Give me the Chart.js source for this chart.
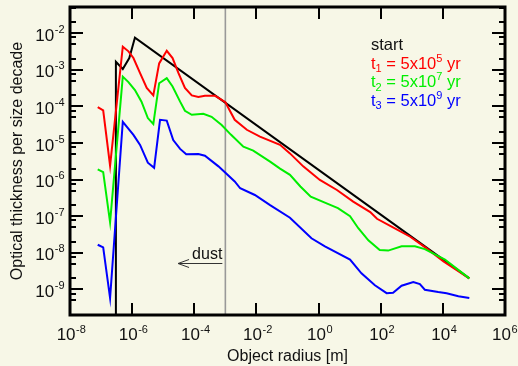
<!DOCTYPE html>
<html>
<head>
<meta charset="utf-8">
<script src="https://cdn.jsdelivr.net/npm/chart.js@4/dist/chart.umd.min.js"></script>
<style>
  html, body { margin: 0; padding: 0; background: #f7f7e7; }
  canvas { display: block; }
</style>
</head>
<body>
<canvas id="grafico" width="518" height="366"></canvas>
<script>
// object radius [m] and optical thickness per size decade for each curve
const startRadius = [3e-7, 3e-7, 5e-7, 8.1e-7, 1.23e-6, 7.1e4]
const startTau = [1e-11, 1.66e-3, 1.05e-3, 2.1e-3, 7.6e-3, 2.0e-9]

const t1Radius = [7.8e-8, 1.17e-7, 1.95e-7, 5e-7, 7.6e-7, 1.1e-6, 1.8e-6, 2.95e-6, 4.8e-6, 7.4e-6,
  1.3e-5, 2.0e-5, 3.1e-5, 5.0e-5, 8.3e-5, 1.35e-4, 2.2e-4, 4.7e-4, 1e-3, 2.0e-3,
  4.9e-3, 1.3e-2, 5.75e-2, 0.12, 0.32, 1.1, 3.9, 13, 46, 76, 257, 890, 3090, 1.05e4, 7.1e4]
const t1Tau = [9.5e-5, 7.8e-5, 2.4e-6, 4.3e-3, 3.2e-3, 2.1e-3, 8.1e-4, 3.2e-4, 2.0e-4, 1.5e-3,
  3.3e-3, 2.1e-3, 8.1e-4, 3.2e-4, 2.0e-4, 1.8e-4, 1.95e-4, 1.95e-4, 1.3e-4, 4.3e-5,
  2.3e-5, 1.5e-5, 8.9e-6, 5.2e-6, 2.3e-6, 9.8e-7, 5.2e-7, 2.5e-7, 1.3e-7, 8.5e-8, 4.9e-8, 2.75e-8, 1.3e-8, 5.8e-9, 2.0e-9]

const t2Radius = [7.8e-8, 1.17e-7, 1.95e-7, 5e-7, 7.6e-7, 1.23e-6, 2.0e-6, 3.2e-6, 4.8e-6, 7.4e-6,
  1.3e-5, 2.0e-5, 3.5e-5, 5.0e-5, 8.3e-5, 1.95e-4, 3.6e-4, 7.6e-4, 1.5e-3, 3.8e-3,
  7.9e-3, 2.75e-2, 5.75e-2, 0.12, 0.26, 0.56, 1.9, 4.2, 10.3, 19, 40, 93, 174, 470, 1260, 2630, 1.17e4, 7.1e4]
const t2Tau = [1.9e-6, 1.6e-6, 6.8e-8, 6.5e-4, 4.6e-4, 2.8e-4, 1.35e-4, 4.8e-5, 3.3e-5, 4.3e-4,
  5.9e-4, 3.5e-4, 1.35e-4, 7.6e-5, 5.9e-5, 6.3e-5, 5.2e-5, 3.1e-5, 1.7e-5, 7.9e-6,
  6.2e-6, 3.1e-6, 2.0e-6, 1.35e-6, 6.5e-7, 3.4e-7, 2.2e-7, 1.66e-7, 1.0e-7, 4.7e-8, 2.2e-8, 1.2e-8, 1.15e-8, 1.5e-8, 1.5e-8, 1.26e-8, 6.5e-9, 2.0e-9]

const t3Radius = [7.8e-8, 1.17e-7, 1.95e-7, 5e-7, 1.1e-6, 1.8e-6, 3.2e-6, 5.1e-6, 7.9e-6, 1.3e-5,
  2.1e-5, 3.5e-5, 5.5e-5, 1.35e-4, 2.2e-4, 6.0e-4, 2.0e-3, 3.0e-3, 8.9e-3, 2.75e-2,
  0.12, 0.59, 1.6, 10.3, 24, 65, 155, 250, 470, 1120, 1820, 2630, 7080, 1.32e4, 3.16e4, 7.1e4]
const t3Tau = [1.66e-8, 1.4e-8, 5.8e-10, 3.8e-5, 1.66e-5, 8.9e-6, 2.9e-6, 2.1e-6, 4.3e-5, 4.1e-5,
  1.2e-5, 6.9e-6, 4.9e-6, 5.0e-6, 4.5e-6, 2.3e-6, 8.9e-7, 5.8e-7, 3.8e-7, 2.0e-7,
  9.1e-8, 2.5e-8, 1.5e-8, 6.5e-9, 2.75e-9, 1.3e-9, 7.9e-10, 8.1e-10, 1.26e-9, 1.6e-9, 1.4e-9, 9.8e-10, 8.5e-10, 7.9e-10, 6.5e-10, 5.8e-10]

// dust / larger bodies boundary
const dustEdge = 1e-3
const dustArrowEnd = 3e-5
const dustArrowTau = 5.2e-9

const xMin = 1e-8, xMax = 1e6
const yMin = 2e-10, yMax = 5.2e-2
const xLabelTicks = [-8, -6, -4, -2, 0, 2, 4, 6]
const yLabelTicks = [-9, -8, -7, -6, -5, -4, -3, -2]
const yMinorSteps = [2, 5, 7.7]

const fontFam = '"Liberation Sans", Arial, Helvetica, sans-serif'

const toPoints = (xs, ys) => xs.map((v, i) => ({ x: v, y: ys[i] }))

function powerLabel(ctx, exp, x, base, align, raise) {
  ctx.font = "17px " + fontFam
  const w1 = ctx.measureText("10").width
  ctx.font = "11px " + fontFam
  const w2 = ctx.measureText(exp).width
  let left = align === "center" ? x - (w1 + w2) / 2 : x - w1 - w2
  // keep the last label inside the canvas
  left = Math.min(left, 517 - w1 - w2)
  ctx.font = "17px " + fontFam
  ctx.fillText("10", left, base)
  ctx.font = "11px " + fontFam
  ctx.fillText(exp, left + w1 + 0.5, base - raise)
}

// pieces of rich text: [text, size, vertical shift]
function richText(ctx, parts, x, base, color) {
  ctx.fillStyle = color
  let cx = x
  parts.forEach(([t, size, dy]) => {
    ctx.font = size + "px " + fontFam
    ctx.fillText(t, cx, base + dy)
    cx += ctx.measureText(t).width
  })
}

function seg(ctx, x1, y1, x2, y2) {
  ctx.beginPath()
  ctx.moveTo(x1, y1)
  ctx.lineTo(x2, y2)
  ctx.stroke()
}

const frameAndText = {
  id: "frameAndText",
  beforeDraw(chart) {
    const ctx = chart.ctx
    ctx.save()
    ctx.fillStyle = "#f7f7e7"
    ctx.fillRect(0, 0, chart.width, chart.height)
    ctx.restore()
  },
  afterDatasetsDraw(chart) {
    const { ctx, chartArea: a, scales: { x, y } } = chart
    ctx.save()
    ctx.strokeStyle = "#000"
    ctx.lineWidth = 2

    // x ticks, bottom and top
    xLabelTicks.forEach(e => {
      const px = Math.round(x.getPixelForValue(Math.pow(10, e)))
      if (px <= a.left + 1 || px >= a.right - 1) return
      seg(ctx, px, a.bottom, px, a.bottom - 12)
      seg(ctx, px, a.top, px, a.top + 12)
    })

    // y ticks, left and right
    for (let e = -10; e <= -1; e++) {
      const v = Math.pow(10, e)
      if (v >= yMin && v <= yMax) {
        const py = Math.round(y.getPixelForValue(v))
        seg(ctx, a.left, py, a.left + 13, py)
        seg(ctx, a.right, py, a.right - 13, py)
      }
      yMinorSteps.forEach(m => {
        const mv = m * v / 10
        if (mv <= yMin || mv >= yMax) return
        const py = Math.round(y.getPixelForValue(mv))
        seg(ctx, a.left, py, a.left + 6, py)
        seg(ctx, a.right, py, a.right - 6, py)
      })
    }

    // frame
    ctx.lineWidth = 3
    ctx.strokeRect(a.left, a.top, a.right - a.left, a.bottom - a.top)

    // tick labels
    ctx.fillStyle = "#111"
    ctx.textBaseline = "alphabetic"
    ctx.textAlign = "left"
    xLabelTicks.forEach(e => {
      const px = x.getPixelForValue(Math.pow(10, e))
      powerLabel(ctx, String(e), px + 1, a.bottom + 25, "center", 7)
    })
    yLabelTicks.forEach(e => {
      const py = y.getPixelForValue(Math.pow(10, e))
      powerLabel(ctx, String(e), a.left - 6, py + 7.5, "right", 8)
    })

    // axis titles
    ctx.font = "16px " + fontFam
    ctx.textAlign = "center"
    ctx.fillText("Object radius [m]", (a.left + a.right) / 2, 361)
    ctx.save()
    ctx.translate(22, (a.top + a.bottom) / 2)
    ctx.rotate(-Math.PI / 2)
    ctx.fillText("Optical thickness per size decade", 0, 0)
    ctx.restore()

    // dust arrow
    const ax1 = x.getPixelForValue(dustEdge) - 3
    const ax2 = x.getPixelForValue(dustArrowEnd)
    const ay = Math.round(y.getPixelForValue(dustArrowTau)) + 0.5
    ctx.strokeStyle = "#333"
    ctx.lineWidth = 1
    seg(ctx, ax1, ay, ax2, ay)
    seg(ctx, ax2, ay, ax2 + 11, ay - 4)
    seg(ctx, ax2, ay, ax2 + 11, ay + 4)
    ctx.font = "16px " + fontFam
    ctx.textAlign = "right"
    ctx.fillStyle = "#111"
    ctx.fillText("dust", ax1, ay - 4.5)

    // legend
    ctx.textAlign = "left"
    const lx = 371
    richText(ctx, [["start", 16.5, 0]], lx, 50, "#111")
    richText(ctx, [["t", 16.5, 0], ["1", 11, 3.5], [" = 5x10", 16.5, 0], ["5", 11, -7], [" yr", 16.5, 0]], lx, 68.5, "#ff0000")
    richText(ctx, [["t", 16.5, 0], ["2", 11, 3.5], [" = 5x10", 16.5, 0], ["7", 11, -7], [" yr", 16.5, 0]], lx, 87, "#00ee00")
    richText(ctx, [["t", 16.5, 0], ["3", 11, 3.5], [" = 5x10", 16.5, 0], ["9", 11, -7], [" yr", 16.5, 0]], lx, 105.5, "#0000ff")

    ctx.restore()
  }
}

const graph = document.querySelector("#grafico")
const data = {
  datasets: [
    {
      label: "t3",
      data: toPoints(t3Radius, t3Tau),
      borderColor: "#0000ff",
      order: 0,
    },
    {
      label: "t2",
      data: toPoints(t2Radius, t2Tau),
      borderColor: "#00ee00",
      order: 1,
    },
    {
      label: "t1",
      data: toPoints(t1Radius, t1Tau),
      borderColor: "#ff0000",
      order: 2,
    },
    {
      label: "start",
      data: toPoints(startRadius, startTau),
      borderColor: "#000000",
      order: 3,
    },
    {
      label: "dust edge",
      data: [{ x: dustEdge, y: yMin }, { x: dustEdge, y: yMax }],
      borderColor: "#999999",
      borderWidth: 1.6,
      order: 4,
    },
  ],
}

const config = {
  type: "line",
  data: data,
  options: {
    responsive: false,
    animation: false,
    layout: {
      padding: { left: 70, top: 7, right: 13, bottom: 51 },
    },
    elements: {
      point: { radius: 0 },
      line: { borderWidth: 2, tension: 0 },
    },
    plugins: {
      legend: { display: false },
      tooltip: { enabled: false },
    },
    scales: {
      x: {
        type: "logarithmic",
        min: xMin,
        max: xMax,
        display: false,
      },
      y: {
        type: "logarithmic",
        min: yMin,
        max: yMax,
        display: false,
      },
    },
  },
  plugins: [frameAndText],
}

new Chart(graph, config)
</script>
</body>
</html>
